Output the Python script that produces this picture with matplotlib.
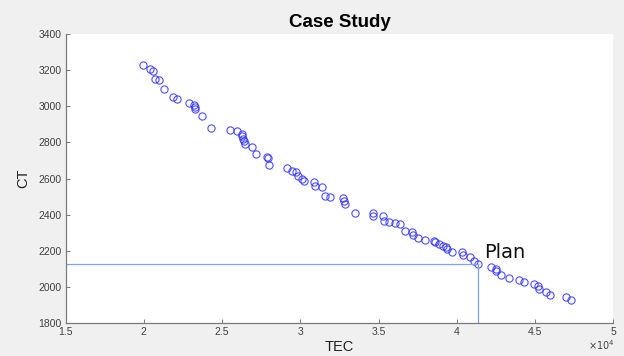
import numpy as np
import matplotlib
matplotlib.use("Agg")
import matplotlib.pyplot as plt
from matplotlib.ticker import FuncFormatter

plt.rcParams["font.family"] = ["Liberation Sans", "DejaVu Sans"]

# --- Pareto points (TEC, CT) ---
tec = np.array([
    19920, 20390, 20600, 20720, 20980, 21300, 21870, 22150, 22880, 23210,
    23240, 23260, 23720, 24280, 25510, 25980, 26260, 26300, 26340, 26380,
    26480, 26910, 27170, 27880, 27950, 28000, 29160, 29470, 29750, 29880,
    30130, 30210, 30850, 30920, 31380, 31570, 31870, 32720, 32770, 32880,
    33470, 34620, 34660, 35300, 35350, 35640, 36020, 36340, 36660, 37150,
    37190, 37490, 37950, 38530, 38620, 38890, 39100, 39280, 39340, 39700,
    40300, 40390, 40810, 41080, 41320, 42190, 42470, 42530, 42790, 43360,
    43940, 44270, 44910, 45210, 45270, 45700, 45980, 46980, 47320,
])
ct = np.array([
    3225, 3205, 3197, 3149, 3142, 3097, 3050, 3042, 3020, 3007,
    2995, 2985, 2948, 2882, 2871, 2862, 2845, 2833, 2816, 2808,
    2789, 2777, 2738, 2721, 2714, 2677, 2656, 2644, 2637, 2615,
    2596, 2589, 2580, 2559, 2554, 2506, 2500, 2493, 2478, 2457,
    2412, 2408, 2394, 2392, 2366, 2358, 2353, 2349, 2310, 2306,
    2288, 2273, 2262, 2257, 2248, 2237, 2229, 2220, 2209, 2194,
    2193, 2180, 2168, 2146, 2128, 2111, 2100, 2091, 2069, 2049,
    2041, 2028, 2016, 2004, 1990, 1975, 1958, 1947, 1930,
])

plan_tec = 41320
plan_ct = 2130

xticks = [15000, 20000, 25000, 30000, 35000, 40000, 45000, 50000]
yticks = [1800, 2000, 2200, 2400, 2600, 2800, 3000, 3200, 3400]

# --- Figure ---
fig = plt.figure(figsize=(6.24, 3.56), dpi=100, facecolor="#f0f0f0")
ax = fig.add_axes([0.105, 0.092, 0.878, 0.813])
ax.set_facecolor("white")

ax.plot(tec, ct, "o", mfc="none", mec="#3030ff", ms=5.2, mew=0.8, alpha=0.85)

# plan guide lines
ax.plot([xticks[0], plan_tec], [plan_ct, plan_ct], color="#7aa2f2", lw=0.9)
ax.plot([plan_tec, plan_tec], [yticks[0], plan_ct], color="#7aa2f2", lw=0.9)
ax.text(plan_tec + 420, plan_ct + 8, "Plan", fontsize=14, color="#111111",
        va="bottom", ha="left", fontfamily="DejaVu Sans")

ax.set_xlim(xticks[0], xticks[-1])
ax.set_ylim(yticks[0], yticks[-1])
ax.set_xticks(xticks)
ax.set_yticks(yticks)
ax.xaxis.set_major_formatter(FuncFormatter(lambda v, p: f"{v / 1e4:g}"))

for s in ["top", "right"]:
    ax.spines[s].set_visible(False)
for s in ["left", "bottom"]:
    ax.spines[s].set_color("#7a7a7a")
    ax.spines[s].set_linewidth(0.9)
ax.tick_params(direction="in", length=3, width=0.7, colors="#7a7a7a",
               labelsize=7.5, labelcolor="#404040", pad=3)

ax.set_title("Case Study", fontsize=13.5, fontweight="bold", pad=5)
ax.set_xlabel("TEC", fontsize=10.5, color="#222222", labelpad=2)
ax.set_ylabel("CT", fontsize=10.5, color="#222222", labelpad=6)
fig.text(0.985, 0.012, r"$\times10^{4}$", fontsize=7, color="#444444",
         ha="right", va="bottom")

fig.savefig("out.png", dpi=100, facecolor=fig.get_facecolor())
